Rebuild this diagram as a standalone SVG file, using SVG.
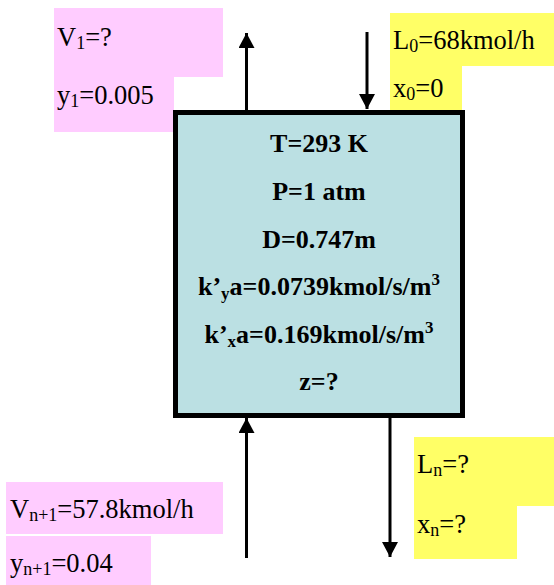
<svg xmlns="http://www.w3.org/2000/svg" width="554" height="585" viewBox="0 0 554 585">
<style>
.t{font-family:"Liberation Serif","Times New Roman",serif;font-size:26.5px;fill:#000}
.b{font-family:"Liberation Serif","Times New Roman",serif;font-size:26px;font-weight:bold;fill:#000;text-anchor:middle}
.pink{fill:#FFCCFF}
.yel{fill:#FFFF66}
.ln{stroke:#000;stroke-width:3;fill:none}
</style>
<defs>
<marker id="ah" markerUnits="userSpaceOnUse" markerWidth="16" markerHeight="16" viewBox="0 0 16 16" refX="15" refY="8" orient="auto">
<path d="M0,0 L15,8 L0,16 Z" fill="#000"/>
</marker>
</defs>
<rect width="554" height="585" fill="#fff"/>
<g id="v1">
<rect class="pink" x="54" y="8" width="169" height="69"/>
<rect class="pink" x="54" y="77" width="120" height="55"/>
<text class="t" x="57" y="46">V<tspan font-size="18" dy="3">1</tspan><tspan dy="-3">=?</tspan></text>
<text class="t" x="57" y="104">y<tspan font-size="18" dy="3">1</tspan><tspan dy="-3">=0.005</tspan></text>
</g>
<g id="l0">
<rect class="yel" x="390" y="13" width="164" height="53"/>
<rect class="yel" x="390" y="66" width="72" height="46"/>
<text class="t" x="393" y="49">L<tspan font-size="18" dy="3">0</tspan><tspan dy="-3">=68kmol/h</tspan></text>
<text class="t" x="393" y="97">x<tspan font-size="18" dy="3">0</tspan><tspan dy="-3">=0</tspan></text>
</g>
<g id="column">
<rect x="175.5" y="112.5" width="287" height="303" fill="#BBE0E3" stroke="#000" stroke-width="5"/>
<text class="b" x="319" y="152">T=293 K</text>
<text class="b" x="319" y="200">P=1 atm</text>
<text class="b" x="319" y="248">D=0.747m</text>
<text class="b" x="319" y="295">k’<tspan font-size="17" dy="4">y</tspan><tspan dy="-4">a=0.0739kmol/s/m</tspan><tspan font-size="17" dy="-10">3</tspan></text>
<text class="b" x="319" y="343">k’<tspan font-size="17" dy="4">x</tspan><tspan dy="-4">a=0.169kmol/s/m</tspan><tspan font-size="17" dy="-10">3</tspan></text>
<text class="b" x="319" y="390">z=?</text>
</g>
<g id="vn1">
<rect class="pink" x="6" y="482" width="217" height="52"/>
<rect class="pink" x="6" y="536" width="145" height="49"/>
<text class="t" x="10" y="518">V<tspan font-size="18" dy="3">n+1</tspan><tspan dy="-3">=57.8kmol/h</tspan></text>
<text class="t" x="10" y="572">y<tspan font-size="18" dy="3">n+1</tspan><tspan dy="-3">=0.04</tspan></text>
</g>
<g id="ln">
<rect class="yel" x="414" y="437" width="140" height="69"/>
<rect class="yel" x="414" y="506" width="103" height="53"/>
<text class="t" x="417" y="473">L<tspan font-size="18" dy="3">n</tspan><tspan dy="-3">=?</tspan></text>
<text class="t" x="417" y="533">x<tspan font-size="18" dy="3">n</tspan><tspan dy="-3">=?</tspan></text>
</g>
<g id="connectors">
<line class="ln" x1="246.5" y1="110" x2="246.5" y2="33" marker-end="url(#ah)"/>
<line class="ln" x1="367" y1="32" x2="367" y2="109" marker-end="url(#ah)"/>
<line class="ln" x1="246.5" y1="558" x2="246.5" y2="418" marker-end="url(#ah)"/>
<line class="ln" x1="390" y1="418" x2="390" y2="557" marker-end="url(#ah)"/>
</g>
</svg>
